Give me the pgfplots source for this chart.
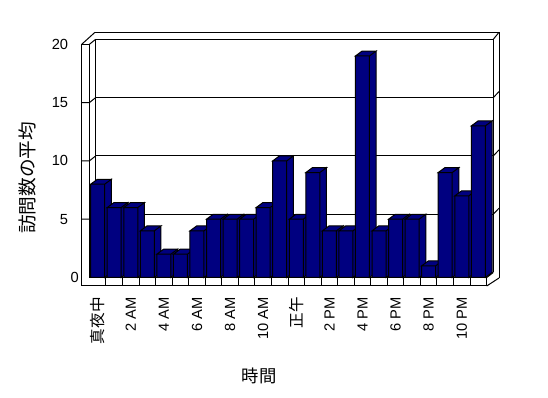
\documentclass[border=0pt]{standalone}
\usepackage{fontspec}
\setmainfont{Liberation Sans}
\newfontfamily\jp{Noto Sans CJK JP}
\usepackage{pgfplots}
\pgfplotsset{compat=1.18}
\definecolor{navybar}{RGB}{0,0,128}
\newcommand\lat{\fontsize{11}{13}\selectfont}
\newcommand\jpt{\fontsize{11.7}{13}\selectfont\jp}
\newcommand\jpL{\fontsize{13}{15}\selectfont\jp}
\newcommand\jpY{\fontsize{14}{16}\selectfont\jp}
% 3D column: front face, top face and right side face
\pgfdeclareplotmark{box3d}{%
  \pgfmathsetlengthmacro\bh{\barval*8.745pt}%
  \pgfpathmoveto{\pgfqpoint{5.25pt}{0pt}}%
  \pgfpathlineto{\pgfqpoint{10.25pt}{3.7pt}}%
  \pgfpathlineto{\pgfpoint{10.25pt}{3.7pt-\bh}}%
  \pgfpathlineto{\pgfpoint{5.25pt}{-\bh}}%
  \pgfpathclose
  \pgfpathmoveto{\pgfqpoint{-5.25pt}{0pt}}%
  \pgfpathlineto{\pgfqpoint{-0.25pt}{3.7pt}}%
  \pgfpathlineto{\pgfqpoint{10.25pt}{3.7pt}}%
  \pgfpathlineto{\pgfqpoint{5.25pt}{0pt}}%
  \pgfpathclose
  \pgfpathrectanglecorners{\pgfpoint{-5.25pt}{-\bh}}{\pgfqpoint{5.25pt}{0pt}}%
  \pgfusepathqfillstroke
}
\begin{document}
\begin{tikzpicture}
\begin{scope}[shift={(-67.05pt,208.125pt)}, x=0.75pt, y=-0.75pt]
\useasboundingbox (0,0) rectangle (548,398);
\begin{scope}[line width=0.75pt]
% left wall
\draw (81.7,44.3) -- (81.7,286);
\draw (89.4,44.3) -- (89.4,277.5);
\draw (81.7,44.3) -- (89.4,44.3);
\draw (81.7,44.3) -- (95,32.3);
\draw (89.4,44.3) -- (95.7,39.3);
\draw (95,32.3) -- (499,32.3);
\draw (95.7,39.3) -- (95.7,272.5);
% back wall grid lines
\foreach \yb in {39.3,97.6,155.9,214.2}{
  \draw (95.7,\yb) -- (493.3,\yb);
}
\draw (95.7,272.5) -- (493.3,272.5);
\foreach \yf in {102.6,160.9,219.2}{
  \draw (81.7,\yf) -- (89.4,\yf) -- (95.7,\yf-5);
  \draw (493.3,\yf-5) -- (499,\yf-11);
}
% right edge
\draw (493.3,39.3) -- (499,32.3);
\draw (499,32.3) -- (499,278);
\draw (493.3,39.3) -- (493.3,272.5);
% floor
\draw (89.4,277.5) -- (486.7,277.5);
\draw (81.7,286) -- (486.7,286);
\draw (486.7,277.5) -- (486.7,286);
\draw (486.7,277.5) -- (493.3,272.5);
\draw (486.7,286) -- (499,278);
\foreach \k in {1,...,23}{
  \draw ({89.4+16.55*\k},277.5) -- ({89.4+16.55*\k},286);
}
\end{scope}
\end{scope}
\begin{axis}[
  at={(0,0)}, anchor=south west,
  scale only axis,
  x=12.4125pt, y=8.745pt,
  xmin=-0.5, xmax=23.5, ymin=0, ymax=20,
  clip=false,
  axis line style={draw=none},
  major tick length=0pt,
  xtick={0,2,...,22},
  xticklabels={{\jpt 真夜中},2 AM,4 AM,6 AM,8 AM,10 AM,{\jpt 正午},2 PM,4 PM,6 PM,8 PM,10 PM},
  xticklabel style={yshift=-14.6pt, rotate=90, anchor=east, inner sep=0pt, font=\lat},
  ytick={5,10,15,20},
  yticklabel style={anchor=east, inner sep=0pt, xshift=-15.8pt, font=\lat},
  extra y ticks={0},
  extra y tick style={yticklabel style={xshift=8pt}},
  /pgf/number format/assume math mode=true,
  xlabel={\jpL 時間},
  ylabel={\jpY 訪問数の平均},
  xlabel style={at={(rel axis cs:0.427,-0.4224)}, anchor=center, inner sep=0pt},
  ylabel style={at={(rel axis cs:-0.157,0.4267)}, anchor=center, inner sep=0pt},
]
\addplot[only marks, mark=box3d,
  mark options={draw=black, fill=navybar, line width=0.75pt},
  visualization depends on={rawy \as \barval}]
  coordinates {
  (0,8) (1,6) (2,6) (3,4) (4,2) (5,2) (6,4) (7,5) (8,5) (9,5) (10,6) (11,10)
  (12,5) (13,9) (14,4) (15,4) (16,19) (17,4) (18,5) (19,5) (20,1) (21,9) (22,7) (23,13)
  };
\end{axis}
\end{tikzpicture}
\end{document}
